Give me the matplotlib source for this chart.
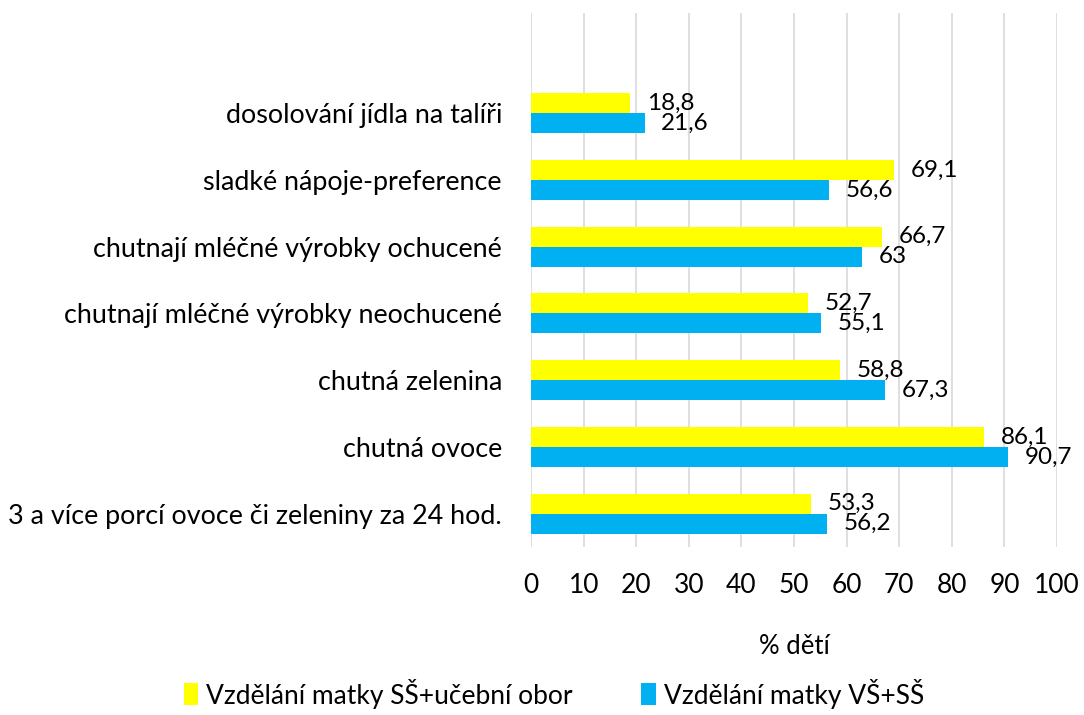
import matplotlib.pyplot as plt
import numpy as np

plt.rcParams['font.family'] = ['Lato', 'DejaVu Sans']

categories = ['3 a více porcí ovoce či zeleniny za 24 hod.',
              'chutná ovoce',
              'chutná zelenina',
              'chutnají mléčné výrobky neochucené',
              'chutnají mléčné výrobky ochucené',
              'sladké nápoje-preference',
              'dosolování jídla na talíři']
ss_ucebni = [53.3, 86.1, 58.8, 52.7, 66.7, 69.1, 18.8]
vs_ss = [56.2, 90.7, 67.3, 55.1, 63, 56.6, 21.6]
series_names = ['Vzdělání matky SŠ+učební obor', 'Vzdělání matky VŠ+SŠ']
ticks = list(range(0, 101, 10))


def fmt(v):
    s = ('%.1f' % v).replace('.', ',')
    if s.endswith(',0'):
        s = s[:-2]
    return s


fig = plt.figure(figsize=(10.84, 7.15), dpi=100)
ax = fig.add_axes([0.4899, 0.235, 0.4852, 0.7468])

y = np.arange(len(categories))
h = 0.3
bars1 = ax.barh(y + h / 2, ss_ucebni, h, color='#FFFF00', label=series_names[0], zorder=3)
bars2 = ax.barh(y - h / 2, vs_ss, h, color='#00B0F0', label=series_names[1], zorder=3)

for bars, vals in [(bars1, ss_ucebni), (bars2, vs_ss)]:
    for b, v in zip(bars, vals):
        ax.annotate(fmt(v), (v, b.get_y() + b.get_height() / 2), xytext=(12, 0),
                    textcoords='offset points', ha='left', va='center', fontsize=17.5)

ax.set_xlim(0, 100)
ax.set_ylim(-0.5, 7.5)
ax.set_xticks(ticks)
ax.set_yticks(y)
ax.set_yticklabels(categories, fontsize=19.4)
ax.tick_params(axis='both', length=0)
ax.tick_params(axis='x', labelsize=19, pad=19)
ax.tick_params(axis='y', pad=21)
ax.grid(axis='x', color='#D9D9D9', linewidth=1.2, zorder=0)
for s in ax.spines.values():
    s.set_visible(False)
ax.set_xlabel('% dětí', fontsize=18.5, labelpad=26)

fig.legend(loc='center', bbox_to_anchor=(0.511, 0.03), ncol=2, frameon=False, fontsize=19,
           handlelength=0.55, handleheight=0.9, handletextpad=0.3, columnspacing=2.6)

fig.savefig('out.png', dpi=100)
